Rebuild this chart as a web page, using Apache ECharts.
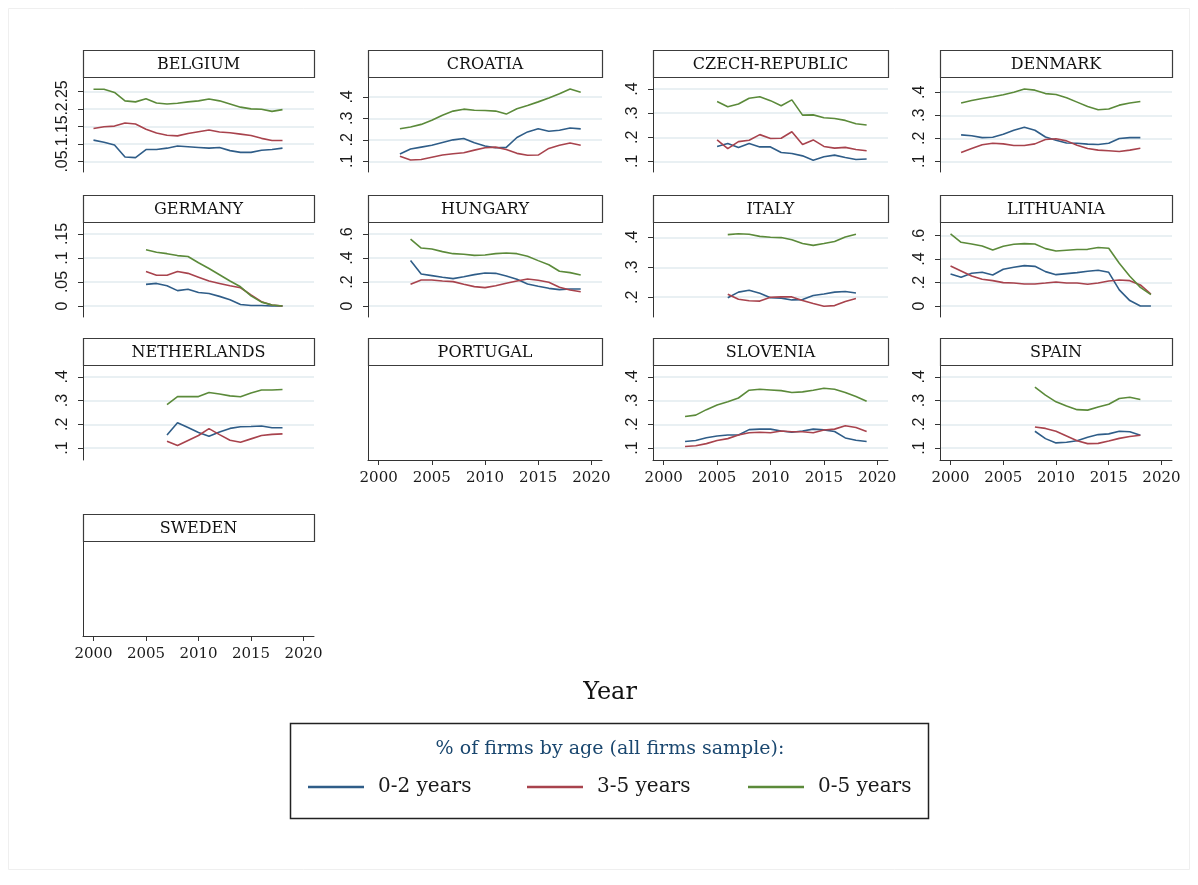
<!DOCTYPE html>
<html><head><meta charset="utf-8">
<script src="https://cdn.jsdelivr.net/npm/echarts@6/dist/echarts.min.js"></script>
<style>html,body{margin:0;padding:0;background:#fff}#c{width:1198px;height:885px}</style>
</head><body><div id="c"></div>
<script>
// ---------------- DATA ----------------
const seriesNames = ['0-2 years', '3-5 years', '0-5 years'];
const legendTitle = '% of firms by age (all firms sample):';
const xTitle = 'Year';
const xTicks = [2000, 2005, 2010, 2015, 2020];

const belgiumYears = [2000,2001,2002,2003,2004,2005,2006,2007,2008,2009,2010,2011,2012,2013,2014,2015,2016,2017,2018];
const belgium02 = [.111,.105,.097,.063,.061,.084,.084,.088,.094,.092,.090,.088,.090,.081,.076,.076,.082,.084,.088];
const belgium35 = [.144,.149,.151,.160,.157,.142,.131,.125,.123,.130,.135,.140,.134,.132,.128,.124,.116,.110,.110];
const belgium05 = [.256,.256,.247,.223,.220,.229,.217,.214,.216,.220,.223,.228,.223,.214,.205,.200,.199,.193,.198];
const belgiumTicks = [.05,.1,.15,.2,.25];

const croatiaYears = [2002,2003,2004,2005,2006,2007,2008,2009,2010,2011,2012,2013,2014,2015,2016,2017,2018,2019];
const croatia02 = [.134,.157,.166,.175,.188,.200,.206,.186,.171,.163,.165,.211,.237,.252,.240,.245,.255,.251];
const croatia35 = [.123,.106,.108,.119,.129,.135,.140,.152,.163,.166,.155,.137,.128,.129,.160,.175,.185,.175];
const croatia05 = [.252,.260,.272,.291,.315,.334,.343,.338,.337,.334,.320,.345,.360,.377,.395,.415,.437,.422];
const croatiaTicks = [.1,.2,.3,.4];

const czechYears = [2005,2006,2007,2008,2009,2010,2011,2012,2013,2014,2015,2016,2017,2018,2019];
const czech02 = [.162,.174,.158,.174,.160,.160,.137,.133,.123,.105,.119,.126,.116,.108,.110];
const czech35 = [.189,.153,.182,.188,.211,.195,.196,.223,.170,.189,.162,.155,.158,.149,.144];
const czech05 = [.348,.327,.338,.362,.368,.352,.331,.355,.292,.293,.281,.278,.270,.256,.251];
const czechTicks = [.1,.2,.3,.4];

const denmarkYears = [2001,2002,2003,2004,2005,2006,2007,2008,2009,2010,2011,2012,2013,2014,2015,2016,2017,2018];
const denmark02 = [.215,.211,.203,.205,.218,.235,.248,.235,.206,.192,.180,.179,.175,.173,.179,.199,.203,.203];
const denmark35 = [.139,.156,.172,.179,.176,.169,.169,.176,.195,.198,.189,.170,.156,.149,.146,.143,.149,.157];
const denmark05 = [.353,.364,.373,.380,.389,.400,.414,.409,.394,.390,.376,.357,.338,.324,.327,.344,.353,.360];
const denmarkTicks = [.1,.2,.3,.4];

const germanyYears = [2005,2006,2007,2008,2009,2010,2011,2012,2013,2014,2015,2016,2017,2018];
const germany02 = [.045,.047,.042,.032,.035,.028,.026,.020,.013,.003,.001,.001,0,0];
const germany35 = [.072,.064,.064,.072,.068,.060,.052,.047,.042,.038,.023,.009,.002,0];
const germany05 = [.117,.112,.109,.105,.103,.090,.078,.065,.052,.040,.021,.008,.002,0];
const germanyTicks = [0,.05,.1,.15];

const hungaryYears = [2003,2004,2005,2006,2007,2008,2009,2010,2011,2012,2013,2014,2015,2016,2017,2018,2019];
const hungary02 = [.378,.267,.253,.239,.228,.244,.261,.275,.272,.250,.222,.183,.164,.147,.136,.142,.142];
const hungary35 = [.181,.217,.217,.208,.203,.181,.161,.153,.169,.189,.208,.225,.214,.197,.156,.133,.119];
const hungary05 = [.558,.483,.475,.453,.436,.431,.422,.425,.436,.442,.436,.414,.378,.344,.289,.278,.258];
const hungaryTicks = [0,.2,.4,.6];

const italyYears = [2006,2007,2008,2009,2010,2011,2012,2013,2014,2015,2016,2017,2018];
const italy02 = [.198,.217,.223,.213,.198,.197,.191,.192,.206,.211,.217,.219,.214];
const italy35 = [.210,.193,.188,.187,.200,.201,.201,.189,.179,.170,.172,.186,.196];
const italy05 = [.409,.412,.410,.403,.400,.399,.392,.379,.373,.379,.386,.401,.410];
const italyTicks = [.2,.3,.4];

const lithuaniaYears = [2000,2001,2002,2003,2004,2005,2006,2007,2008,2009,2010,2011,2012,2013,2014,2015,2016,2017,2018,2019];
const lithuania02 = [.273,.245,.279,.287,.264,.313,.330,.344,.338,.293,.267,.276,.284,.296,.304,.287,.137,.046,0,0];
const lithuania35 = [.341,.299,.256,.228,.216,.199,.196,.188,.188,.196,.205,.196,.196,.185,.196,.213,.222,.216,.179,.102];
const lithuania05 = [.614,.543,.529,.512,.478,.509,.526,.532,.529,.489,.469,.475,.481,.483,.498,.492,.364,.253,.159,.097];
const lithuaniaTicks = [0,.2,.4,.6];

const netherlandsYears = [2007,2008,2009,2010,2011,2012,2013,2014,2015,2016,2017,2018];
const netherlands02 = [.155,.207,.187,.166,.150,.168,.183,.190,.191,.193,.186,.186];
const netherlands35 = [.129,.111,.132,.153,.182,.157,.133,.125,.139,.153,.158,.160];
const netherlands05 = [.283,.317,.317,.317,.334,.328,.320,.316,.332,.345,.345,.347];
const netherlandsTicks = [.1,.2,.3,.4];

const sloveniaYears = [2002,2003,2004,2005,2006,2007,2008,2009,2010,2011,2012,2013,2014,2015,2016,2017,2018,2019];
const slovenia02 = [.128,.132,.144,.151,.155,.155,.178,.180,.180,.172,.167,.172,.180,.177,.170,.143,.133,.128];
const slovenia35 = [.107,.110,.119,.132,.140,.155,.165,.167,.165,.172,.169,.169,.165,.176,.180,.194,.187,.170];
const slovenia05 = [.233,.239,.262,.282,.295,.311,.344,.348,.345,.342,.334,.337,.344,.352,.348,.334,.317,.297];
const sloveniaTicks = [.1,.2,.3,.4];

const spainYears = [2008,2009,2010,2011,2012,2013,2014,2015,2016,2017,2018];
const spain02 = [.171,.140,.122,.125,.131,.146,.157,.160,.171,.169,.154];
const spain35 = [.189,.183,.171,.151,.131,.119,.120,.130,.141,.149,.154];
const spain05 = [.357,.323,.295,.277,.262,.260,.273,.285,.309,.314,.305];
const spainTicks = [.1,.2,.3,.4];

// ---------------- PANELS ----------------
const panels = [
  {name:'BELGIUM', years:belgiumYears, vals:[belgium02,belgium35,belgium05], ticks:belgiumTicks},
  {name:'CROATIA', years:croatiaYears, vals:[croatia02,croatia35,croatia05], ticks:croatiaTicks},
  {name:'CZECH-REPUBLIC', years:czechYears, vals:[czech02,czech35,czech05], ticks:czechTicks},
  {name:'DENMARK', years:denmarkYears, vals:[denmark02,denmark35,denmark05], ticks:denmarkTicks},
  {name:'GERMANY', years:germanyYears, vals:[germany02,germany35,germany05], ticks:germanyTicks},
  {name:'HUNGARY', years:hungaryYears, vals:[hungary02,hungary35,hungary05], ticks:hungaryTicks},
  {name:'ITALY', years:italyYears, vals:[italy02,italy35,italy05], ticks:italyTicks},
  {name:'LITHUANIA', years:lithuaniaYears, vals:[lithuania02,lithuania35,lithuania05], ticks:lithuaniaTicks},
  {name:'NETHERLANDS', years:netherlandsYears, vals:[netherlands02,netherlands35,netherlands05], ticks:netherlandsTicks},
  {name:'PORTUGAL', years:null, vals:null, ticks:null},
  {name:'SLOVENIA', years:sloveniaYears, vals:[slovenia02,slovenia35,slovenia05], ticks:sloveniaTicks},
  {name:'SPAIN', years:spainYears, vals:[spain02,spain35,spain05], ticks:spainTicks},
  {name:'SWEDEN', years:null, vals:null, ticks:null}
];

// ---------------- LAYOUT / STYLE ----------------
const yRanges = {
  'BELGIUM':[0.020,0.291], 'CROATIA':[0.050,0.493], 'CZECH-REPUBLIC':[0.056,0.450], 'DENMARK':[0.054,0.466],
  'GERMANY':[-0.023,0.175], 'HUNGARY':[-0.092,0.700], 'ITALY':[0.134,0.451], 'LITHUANIA':[-0.094,0.716],
  'NETHERLANDS':[0.05,0.45], 'SLOVENIA':[0.05,0.45], 'SPAIN':[0.05,0.45], 'PORTUGAL':[0,1], 'SWEDEN':[0,1]
};
const showXAxis = {'PORTUGAL':1,'SLOVENIA':1,'SPAIN':1,'SWEDEN':1};
const colLeft = [83, 368, 653, 940];
const colW = [231, 234, 235, 232];
const rowTop = [77, 222, 365, 541];
const plotH = 95, titleH = 27;
const colors = ['#2f5d88', '#a8434d', '#5b8a3a'];
const serif = 'DejaVu Serif';

function fmt(v){ if (Math.abs(v) < 1e-9) return '0'; return String(+v.toFixed(3)).replace(/^0\./,'.').replace(/^-0\./,'-.'); }
function labelStyle(show, values){
  return {show: show, customValues: values, rotate: 90, fontFamily: 'Liberation Sans',
    fontSize: 16, color: '#1a1a1a', margin: 12, interval: 0, hideOverlap: false,
    showMinLabel: true, showMaxLabel: true, formatter: v => fmt(v)};
}

const grids = [], xAxes = [], yAxes = [], extraY = [], series = [], graphics = [];
panels.forEach((p, i) => {
  const r = Math.floor(i / 4), c = i % 4;
  const left = colLeft[c], top = rowTop[r], w = colW[c];
  grids.push({left: left, top: top, width: w, height: plotH});
  const sx = !!showXAxis[p.name];
  const has = !!p.vals;
  xAxes.push({
    gridIndex: i, type: 'value', min: 1999, max: 2021,
    axisLine: {show: sx, onZero: false, lineStyle: {color: '#333', width: 1}},
    axisTick: {show: sx, customValues: xTicks, length: 5, lineStyle: {color: '#333'}},
    axisLabel: {show: sx, customValues: xTicks, fontFamily: serif, fontSize: 15, color: '#1a1a1a', margin: 11,
      interval: 0, showMinLabel: true, showMaxLabel: true, formatter: v => String(v)},
    splitLine: {show: false}
  });
  const rg = yRanges[p.name];
  // dense tick sets (5+ ticks) get their labels split over two stacked axes so none is dropped
  const dense = has && p.ticks.length > 4;
  const mainLabels = has ? (dense ? p.ticks.filter((t, k) => k % 2 === 0) : p.ticks) : undefined;
  yAxes.push({
    gridIndex: i, type: 'value', min: rg[0], max: rg[1],
    axisLine: {show: true, onZero: false, lineStyle: {color: '#333', width: 1}},
    axisTick: {show: has, customValues: has ? p.ticks : undefined, length: 5, lineStyle: {color: '#333'}},
    axisLabel: labelStyle(has, mainLabels),
    splitLine: {show: has, interval: 0, lineStyle: {color: '#e2ebef', width: 1.5}}
  });
  if (dense) {
    extraY.push({
      gridIndex: i, type: 'value', min: rg[0], max: rg[1], position: 'left', offset: 0,
      axisLine: {show: false}, axisTick: {show: false}, splitLine: {show: false},
      axisLabel: labelStyle(true, p.ticks.filter((t, k) => k % 2 === 1))
    });
  }
  if (has) {
    p.vals.forEach((vals, k) => {
      series.push({
        name: seriesNames[k], type: 'line', xAxisIndex: i, yAxisIndex: i,
        data: p.years.map((yr, j) => [yr, vals[j]]),
        symbol: 'none', showSymbol: false, silent: true, animation: false,
        color: colors[k], lineStyle: {color: colors[k], width: 1.6}, z: 3 + k
      });
    });
  }
  // title box
  graphics.push({type: 'rect', silent: true, shape: {x: left + 0.5, y: top - titleH + 0.5, width: w, height: titleH},
    style: {fill: '#fff', stroke: '#3c3c3c', lineWidth: 1.2}, z: 10});
  graphics.push({type: 'text', silent: true, x: left + w / 2, y: top - titleH / 2 + 1,
    style: {text: p.name, fill: '#111', font: '16px "' + serif + '"', textAlign: 'center', textVerticalAlign: 'middle'}, z: 11});
});

// Year label & legend box
graphics.push({type: 'text', silent: true, x: 610, y: 693,
  style: {text: xTitle, fill: '#111', font: '24px "' + serif + '"', textAlign: 'center', textVerticalAlign: 'middle'}});
graphics.push({type: 'rect', silent: true, shape: {x: 290.5, y: 723.5, width: 638, height: 95},
  style: {fill: 'none', stroke: '#222', lineWidth: 1.5}});
graphics.push({type: 'text', silent: true, x: 610, y: 749,
  style: {text: legendTitle, fill: '#1a476f', font: '19px "' + serif + '"', textAlign: 'center', textVerticalAlign: 'middle'}});
// faint outer frame
graphics.push({type: 'rect', silent: true, shape: {x: 8.5, y: 8.5, width: 1181, height: 861},
  style: {fill: 'none', stroke: '#efefef', lineWidth: 1}, z: -1});

const legendLefts = [303, 522, 743];
const legends = seriesNames.map((nm, k) => ({
  data: [nm], left: legendLefts[k], top: 770, orient: 'horizontal',
  icon: 'rect', itemWidth: 56, itemHeight: 2.5, selectedMode: false,
  textStyle: {fontFamily: serif, fontSize: 20, color: '#1a1a1a', padding: [0, 0, 0, 9], lineHeight: 24}
}));

const chart = echarts.init(document.getElementById('c'), null, {renderer: 'canvas'});
chart.setOption({
  backgroundColor: '#fff',
  animation: false,
  grid: grids, xAxis: xAxes, yAxis: yAxes.concat(extraY), series: series,
  legend: legends,
  graphic: {elements: graphics}
});
</script></body></html>
